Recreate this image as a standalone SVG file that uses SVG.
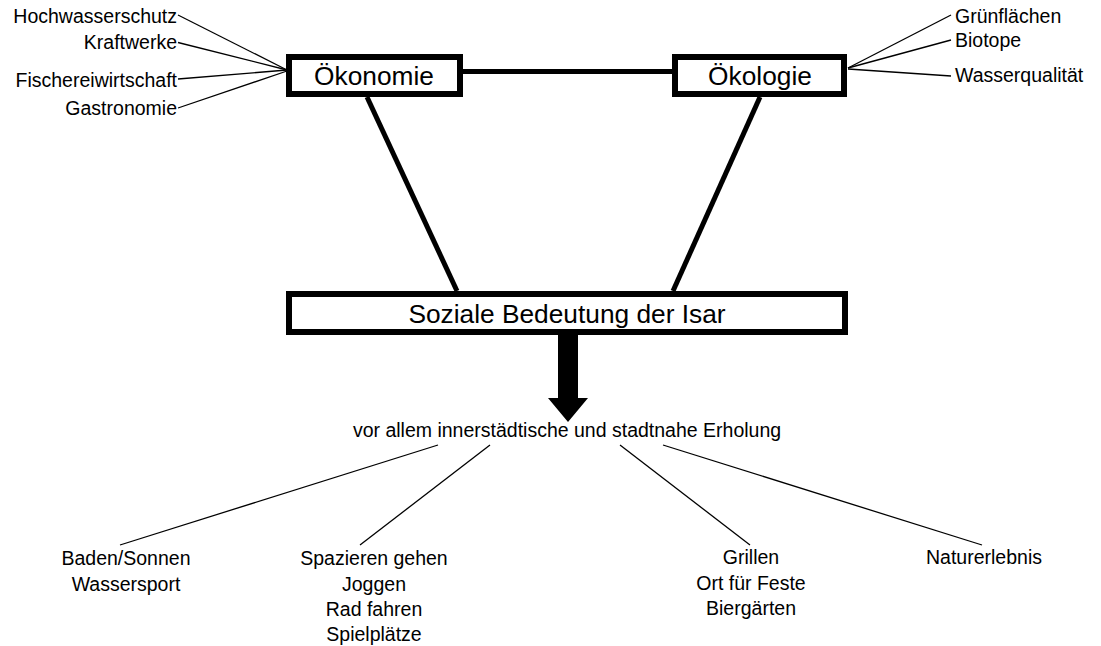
<svg xmlns="http://www.w3.org/2000/svg" width="1101" height="646" viewBox="0 0 1101 646">
<style>
.box{fill:#fff;stroke:#000;stroke-width:6}
.thick{stroke:#000;stroke-width:5;fill:none}
.thin{stroke:#000;stroke-width:1.3;fill:none}
text{font-family:"Liberation Sans",Arial,sans-serif;fill:#000}
.big{font-size:26.3px;text-anchor:middle}
.sm{font-size:19.5px}
.r{text-anchor:end}
.m{text-anchor:middle}
</style>
<rect width="1101" height="646" fill="#fff"/>
<g id="connectors">
<line class="thick" x1="463" y1="71.5" x2="672" y2="71.5"/>
<line class="thick" x1="367" y1="97" x2="457" y2="291"/>
<line class="thick" x1="760" y1="97" x2="673" y2="291"/>
<line class="thin" x1="178" y1="15" x2="287" y2="70"/>
<line class="thin" x1="178" y1="42.5" x2="287" y2="70"/>
<line class="thin" x1="178" y1="79" x2="287" y2="70"/>
<line class="thin" x1="178" y1="108" x2="287" y2="71"/>
<line class="thin" x1="951" y1="15" x2="848" y2="68"/>
<line class="thin" x1="951" y1="40" x2="848" y2="68"/>
<line class="thin" x1="951" y1="76" x2="848" y2="69"/>
<line class="thin" x1="438" y1="445" x2="120" y2="545"/>
<line class="thin" x1="490" y1="445" x2="360" y2="545"/>
<line class="thin" x1="620" y1="445" x2="750" y2="545"/>
<line class="thin" x1="663" y1="445" x2="982" y2="545"/>
<polygon id="arrow" points="558,335 578,335 578,398 588,398 568,422 548,398 558,398" fill="#000"/>
</g>
<g id="oekonomie">
<rect class="box" x="289" y="57" width="171" height="37"/>
<text class="big" x="374" y="85">Ökonomie</text>
</g>
<g id="oekologie">
<rect class="box" x="675" y="57" width="169" height="37"/>
<text class="big" x="760" y="85">Ökologie</text>
</g>
<g id="sozial">
<rect class="box" x="289" y="294" width="556" height="38"/>
<text class="big" x="567" y="323">Soziale Bedeutung der Isar</text>
</g>
<g id="left-labels">
<text class="sm r" x="177" y="23">Hochwasserschutz</text>
<text class="sm r" x="177" y="49">Kraftwerke</text>
<text class="sm r" x="177" y="87">Fischereiwirtschaft</text>
<text class="sm r" x="177" y="115">Gastronomie</text>
</g>
<g id="right-labels">
<text class="sm" x="955" y="23">Grünflächen</text>
<text class="sm" x="955" y="47">Biotope</text>
<text class="sm" x="955" y="82">Wasserqualität</text>
</g>
<g id="erholung">
<text class="sm m" x="567" y="437">vor allem innerstädtische und stadtnahe Erholung</text>
</g>
<g id="baden">
<text class="sm m" x="126" y="565">Baden/Sonnen</text>
<text class="sm m" x="126" y="591">Wassersport</text>
</g>
<g id="spazieren">
<text class="sm m" x="374" y="565">Spazieren gehen</text>
<text class="sm m" x="374" y="591">Joggen</text>
<text class="sm m" x="374" y="616">Rad fahren</text>
<text class="sm m" x="374" y="641">Spielplätze</text>
</g>
<g id="grillen">
<text class="sm m" x="751" y="564">Grillen</text>
<text class="sm m" x="751" y="590">Ort für Feste</text>
<text class="sm m" x="751" y="615">Biergärten</text>
</g>
<g id="natur">
<text class="sm m" x="984" y="564">Naturerlebnis</text>
</g>
</svg>
